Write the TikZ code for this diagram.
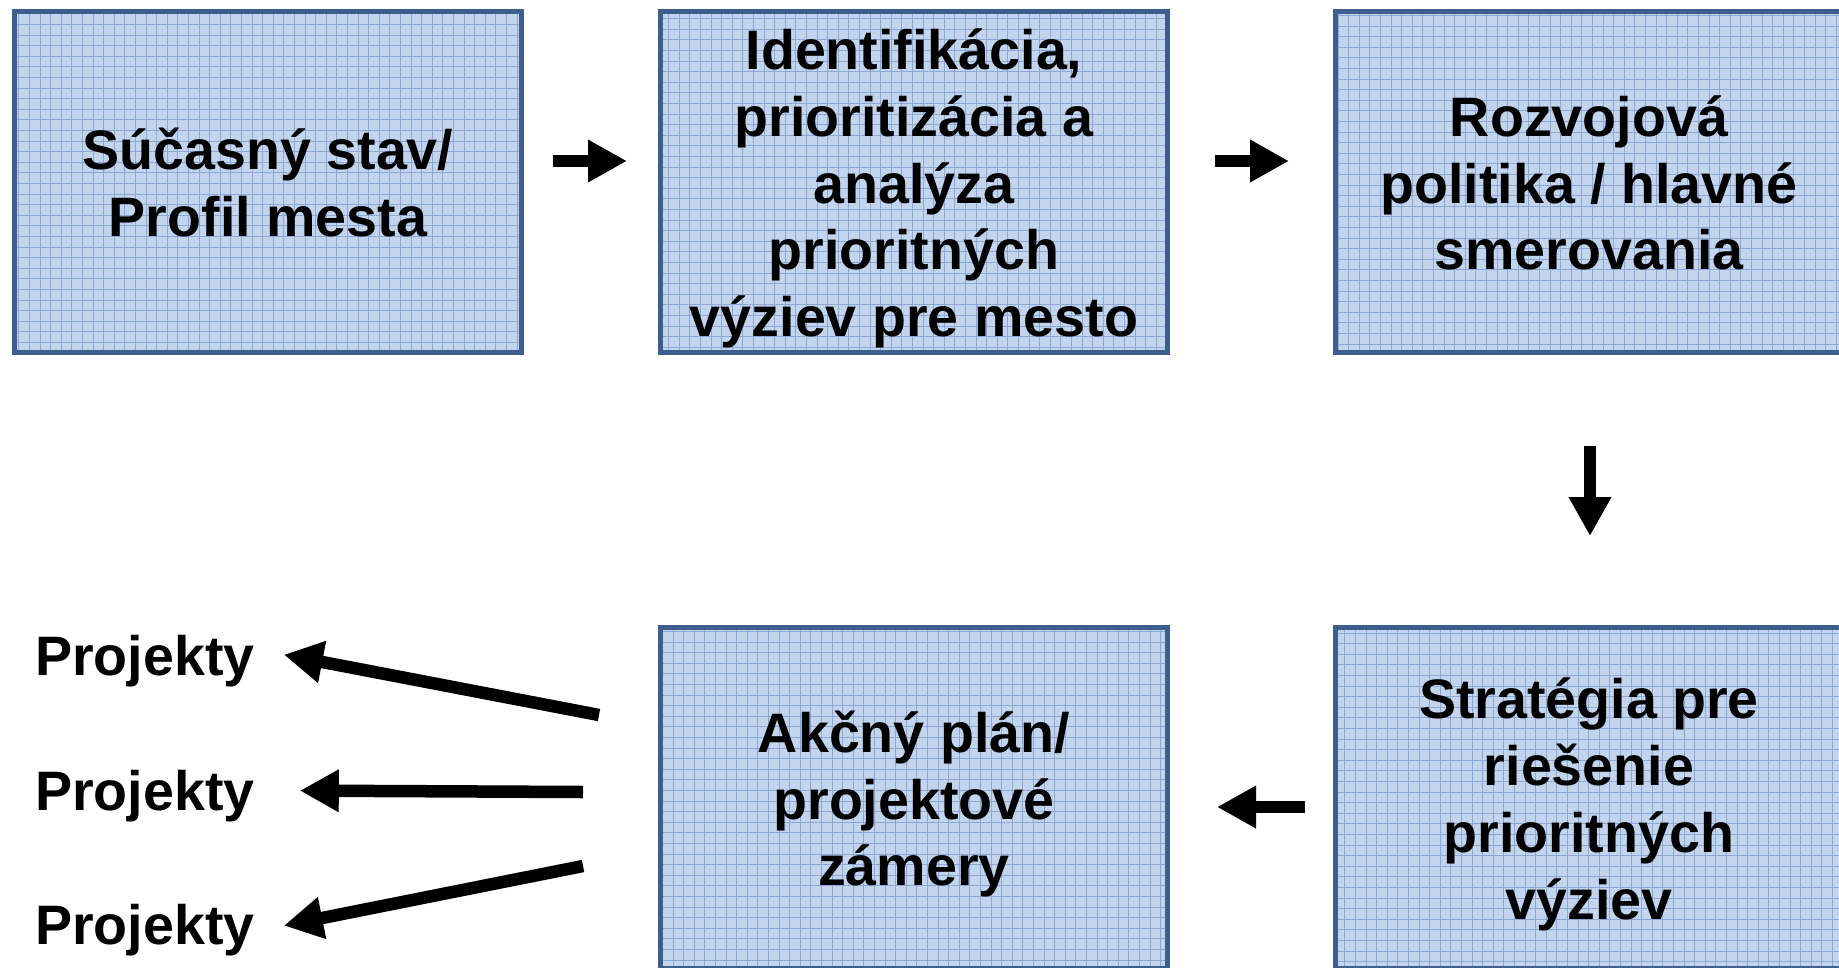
\documentclass[tikz,border=0pt]{standalone}
\usepackage{fontspec}
\setmainfont{Liberation Sans}
\usetikzlibrary{arrows.meta,%
                positioning}

\definecolor{boxfill}{HTML}{C3D4ED}
\definecolor{boxgrid}{HTML}{8CA8D6}
\definecolor{boxline}{HTML}{3D5F8E}
\newcommand{\BoxTop}{\rule{0pt}{0.98em}}

\begin{document}
\begin{tikzpicture}[x = 1pt, y = 1pt]
  \useasboundingbox (0,0) rectangle (1839,-967);
  \clip (0,0) rectangle (1839,-967);
  \tikzstyle{every node} = [inner sep = 0,
                            align = center,
                            font = \fontsize{55.6}{66.8}\selectfont\bfseries]
\tikzset{BoxStyle/.style={draw = boxline, line width = 5pt, fill = boxfill,
    minimum width = 507pt, minimum height = 341pt,
    execute at end node = {\rule[-0.22em]{0pt}{0pt}},
    path picture = {\draw[boxgrid, line width = 1pt]
      (path picture bounding box.north west) grid[step = 10.6pt]
      (path picture bounding box.south east);}}}
\tikzset{EdgeStyle/.style={line width = 12.5pt,
    -{Triangle[length = 39pt, width = 40pt]}}}

\node[BoxStyle] (B1) at (268,-182) {\BoxTop Súčasný stav/\\Profil mesta};
\node[BoxStyle, right = 134pt of B1] (B2) {\BoxTop Identifikácia,\\prioritizácia a\\analýza\\prioritných\\výziev pre mesto};
\node[BoxStyle, right = 163pt of B2] (B3) {\BoxTop Rozvojová\\politika / hlavné\\smerovania};
\node[BoxStyle, below = 270pt of B3] (B4) {\BoxTop Stratégia pre\\riešenie\\prioritných\\výziev};
\node[BoxStyle, left = 163pt of B4] (B5) {\BoxTop Akčný plán/\\projektové\\zámery};

\node[anchor = base west] (P1) at (35,-675) {Projekty};
\node[anchor = base west] (P2) at (35,-810) {Projekty};
\node[anchor = base west] (P3) at (35,-944) {Projekty};

\draw[EdgeStyle, shorten <= 29pt, shorten >= 31pt] ([yshift = 21pt]B1.east) -- ([yshift = 21pt]B2.west);
\draw[EdgeStyle, shorten <= 45pt, shorten >= 44pt] ([yshift = 21pt]B2.east) -- ([yshift = 21pt]B3.west);
\draw[EdgeStyle, shorten <= 91pt, shorten >= 89pt] ([xshift = 1pt]B3.south) -- ([xshift = 1pt]B4.north);
\draw[EdgeStyle, shorten <= 28pt, shorten >= 47pt] ([yshift = -9pt]B4.west) -- ([yshift = -9pt]B5.east);

%\tikzset{EdgeStyle/.append style = {shorten >= 0pt}}
\draw[EdgeStyle] ([xshift = -59pt, yshift = 83pt]B5.west) -- ([xshift = 29pt, yshift = 6pt]P1.east);
\draw[EdgeStyle] ([xshift = -75pt, yshift = 6pt]B5.west) -- ([xshift = 45pt, yshift = 5pt]P2.east);
\draw[EdgeStyle] ([xshift = -75pt, yshift = -68pt]B5.west) -- ([xshift = 29pt, yshift = 4pt]P3.east);

\end{tikzpicture}
\end{document}
